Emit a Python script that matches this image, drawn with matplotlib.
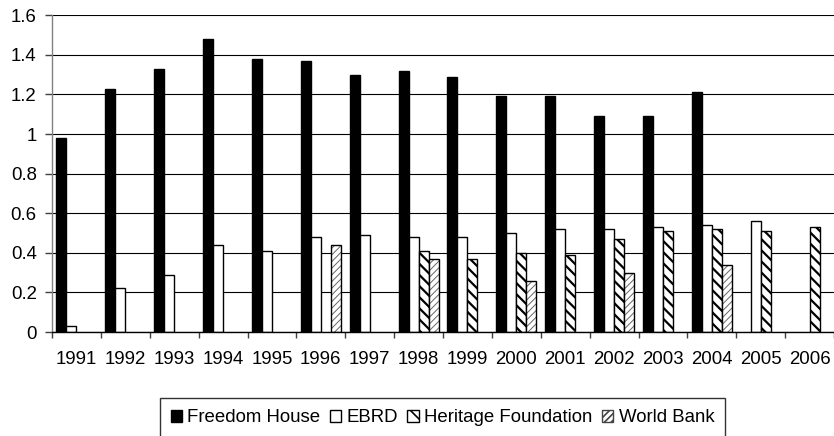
import numpy as np
import matplotlib
matplotlib.use("Agg")
import matplotlib.pyplot as plt
from matplotlib.patches import Patch
from matplotlib.ticker import FixedLocator, FuncFormatter

years = ["1991", "1992", "1993", "1994", "1995", "1996", "1997", "1998",
         "1999", "2000", "2001", "2002", "2003", "2004", "2005", "2006"]
freedom_house = [0.98, 1.23, 1.33, 1.48, 1.38, 1.37, 1.30, 1.32,
                 1.29, 1.19, 1.19, 1.09, 1.09, 1.21, None, None]
ebrd = [0.03, 0.22, 0.29, 0.44, 0.41, 0.48, 0.49, 0.48,
        0.48, 0.50, 0.52, 0.52, 0.53, 0.54, 0.56, None]
heritage = [None, None, None, None, None, None, None, 0.41,
            0.37, 0.40, 0.39, 0.47, 0.51, 0.52, 0.51, 0.53]
world_bank = [None, None, None, None, None, 0.44, None, 0.37,
              None, 0.26, None, 0.30, None, 0.34, None, None]
series_names = ["Freedom House", "EBRD", "Heritage Foundation", "World Bank"]

plt.rcParams["font.family"] = ["Liberation Sans", "DejaVu Sans"]
plt.rcParams["font.size"] = 13.4

fig = plt.figure(figsize=(8.34, 4.36), dpi=100)
ax = fig.add_axes([52 / 834, 1 - 332 / 436, 1 - 52 / 834, (332 - 15.3) / 436])

x = np.arange(len(years))
w = 0.205


def present(vals):
    idx = np.array([i for i, v in enumerate(vals) if v is not None])
    hts = np.array([v for v in vals if v is not None])
    return idx, hts


# Freedom House: solid black
i, h = present(freedom_house)
ax.bar(x[i] - 1.5 * w, h, width=w, color="black", edgecolor="black",
       linewidth=1.0, zorder=3)

# EBRD: white
i, h = present(ebrd)
ax.bar(x[i] - 0.5 * w, h, width=w, color="white", edgecolor="black",
       linewidth=1.0, zorder=3)

# Heritage Foundation: bold back-slash hatch
plt.rcParams["hatch.linewidth"] = 1.6
i, h = present(heritage)
hf_bars = ax.bar(x[i] + 0.5 * w, h, width=w, color="white", edgecolor="black",
                 hatch="\\" * 3, linewidth=1.0, zorder=3)
for p in hf_bars:
    if hasattr(p, "set_hatch_linewidth"):
        p.set_hatch_linewidth(1.6)

# World Bank: fine grey slash hatch with black outline
plt.rcParams["hatch.linewidth"] = 0.7
i, h = present(world_bank)
wb_fill = ax.bar(x[i] + 1.5 * w, h, width=w, color="white", edgecolor="#666666",
                 hatch="/" * 5, linewidth=0, zorder=3)
for p in wb_fill:
    if hasattr(p, "set_hatch_linewidth"):
        p.set_hatch_linewidth(0.7)
ax.bar(x[i] + 1.5 * w, h, width=w, fill=False, edgecolor="black",
       linewidth=1.0, zorder=4)

ax.set_xlim(-0.5, len(years) - 0.5)
ax.set_ylim(0, 1.6)

yt = np.round(np.arange(0, 1.61, 0.2), 1)
ax.set_yticks(yt)
ax.yaxis.set_major_formatter(FuncFormatter(lambda v, _: f"{v:g}"))
ax.tick_params(axis="y", direction="out", length=5, width=1.0, pad=6,
               color="#404040")

ax.set_xticks(x)
ax.set_xticklabels(years)
ax.xaxis.set_minor_locator(FixedLocator(np.arange(-0.5, len(years), 1.0)))
ax.tick_params(axis="x", which="major", length=0, pad=14)
ax.tick_params(axis="x", which="minor", direction="out", length=4, width=1.0,
               color="#404040")

ax.grid(axis="y", color="black", linewidth=0.8, zorder=0)
ax.set_axisbelow(True)
for side in ("top", "right"):
    ax.spines[side].set_visible(False)
ax.spines["left"].set_color("#808080")
ax.spines["left"].set_linewidth(1.0)
ax.spines["bottom"].set_color("black")
ax.spines["bottom"].set_linewidth(1.0)
ax.spines["bottom"].set_zorder(5)

plt.rcParams["hatch.linewidth"] = 1.2
handles = [
    Patch(facecolor="black", edgecolor="black", label=series_names[0]),
    Patch(facecolor="white", edgecolor="black", label=series_names[1]),
    Patch(facecolor="white", edgecolor="black", hatch="\\\\", label=series_names[2]),
    Patch(facecolor="white", edgecolor="#444444", hatch="/////", label=series_names[3]),
]
leg = fig.legend(handles=handles, loc="upper center",
                 bbox_to_anchor=(442.5 / 834, 1 - 398 / 436),
                 ncol=4, frameon=True, fancybox=False, edgecolor="black",
                 handlelength=0.6, handleheight=0.6, handletextpad=0.3,
                 columnspacing=0.5, borderpad=0.6, borderaxespad=0,
                 fontsize=13.4)
leg.get_frame().set_linewidth(1.0)

fig.savefig("out.png", dpi=100)
